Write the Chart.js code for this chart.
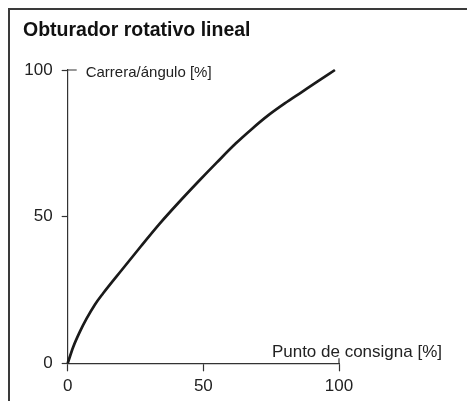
<!DOCTYPE html>
<html>
<head>
<meta charset="utf-8">
<script src="https://cdn.jsdelivr.net/npm/chart.js@4/dist/chart.umd.min.js"></script>
<style>
  html, body { margin: 0; padding: 0; background: #fff; overflow: hidden; }
  #wrap { width: 467px; height: 401px; position: relative; }
</style>
</head>
<body>
<div id="wrap"><canvas id="c" width="467" height="401"></canvas></div>
<script>
// Characteristic: linear rotary plug, travel/angle vs. set point (both in %)
const setpoint = [0, 2, 4.5, 7, 10, 13, 20, 27, 34, 41, 48, 55, 62, 68, 74, 80, 86, 92, 98.5];
const travel   = [0, 5.5, 10.8, 15.3, 20, 23.8, 31.9, 39.9, 47.7, 54.9, 61.8, 68.5, 75, 80, 84.6, 88.6, 92.3, 96, 100];
const tickValues = [0, 50, 100];

const titleText  = 'Obturador rotativo lineal';
const xAxisTitle = 'Punto de consigna [%]';
const yAxisTitle = 'Carrera/ángulo [%]';

const FONT = '"Liberation Sans", Arial, sans-serif';
const INK = '#1a1a1a';
const AXIS = '#333333';

// Frame, end-tick extensions and the in-plot axis captions
const decor = {
  id: 'decor',
  afterDraw(chart) {
    const { ctx, scales: { x, y } } = chart;
    const x0 = x.getPixelForValue(0), x100 = x.getPixelForValue(100);
    const y0 = y.getPixelForValue(0), y100 = y.getPixelForValue(100);
    ctx.save();
    // open frame: left and top edges
    ctx.strokeStyle = '#3a3a3a';
    ctx.lineWidth = 2;
    ctx.beginPath();
    ctx.moveTo(9, chart.height);
    ctx.lineTo(9, 9);
    ctx.lineTo(chart.width, 9);
    ctx.stroke();
    // end ticks reach across the axis line
    ctx.strokeStyle = AXIS;
    ctx.lineWidth = 1.2;
    ctx.beginPath();
    ctx.moveTo(x0, y100); ctx.lineTo(x0 + 9, y100);
    ctx.moveTo(x100, y0); ctx.lineTo(x100, y0 - 5);
    ctx.stroke();
    // captions
    ctx.fillStyle = '#222';
    ctx.textBaseline = 'alphabetic';
    ctx.font = '15px ' + FONT;
    ctx.textAlign = 'left';
    ctx.fillText(yAxisTitle, x0 + 18, y100 + 7);
    ctx.font = '17px ' + FONT;
    ctx.textAlign = 'right';
    ctx.fillText(xAxisTitle, x100 + 103, y0 - 6.5);
    ctx.restore();
  }
};

new Chart(document.getElementById('c'), {
  type: 'line',
  data: {
    datasets: [{
      data: setpoint.map((v, i) => ({ x: v, y: travel[i] })),
      borderColor: INK,
      borderWidth: 2.7,
      pointRadius: 0,
      cubicInterpolationMode: 'monotone',
      fill: false,
      clip: false
    }]
  },
  options: {
    responsive: false,
    animation: false,
    devicePixelRatio: 1,
    layout: { padding: { left: 23, right: 128, top: 0, bottom: 0 } },
    plugins: {
      legend: { display: false },
      tooltip: { enabled: false },
      title: {
        display: true,
        text: titleText,
        align: 'start',
        color: '#111',
        font: { family: FONT, size: 19.5, weight: 'bold', lineHeight: 1.2 },
        padding: { top: 18.5, bottom: 28.1 }
      }
    },
    scales: {
      x: {
        type: 'linear',
        min: 0, max: 100,
        afterBuildTicks: s => { s.ticks = tickValues.map(v => ({ value: v })); },
        afterFit: s => { s.height = 37.7; },
        ticks: { color: '#222', font: { family: FONT, size: 17 }, padding: 5, maxRotation: 0, autoSkip: false },
        grid: { display: true, drawOnChartArea: false, drawTicks: true, tickLength: 8, color: AXIS, tickWidth: 1.2 },
        border: { display: true, color: AXIS, width: 1.2 }
      },
      y: {
        type: 'linear',
        min: 0, max: 100,
        afterBuildTicks: s => { s.ticks = tickValues.map(v => ({ value: v })); },
        afterFit: s => { s.width = 44.7; },
        ticks: { color: '#222', font: { family: FONT, size: 17 }, padding: 9, autoSkip: false },
        grid: { display: true, drawOnChartArea: false, drawTicks: true, tickLength: 6, color: AXIS, tickWidth: 1.2 },
        border: { display: true, color: AXIS, width: 1.2 }
      }
    }
  },
  plugins: [decor]
});
</script>
</body>
</html>
